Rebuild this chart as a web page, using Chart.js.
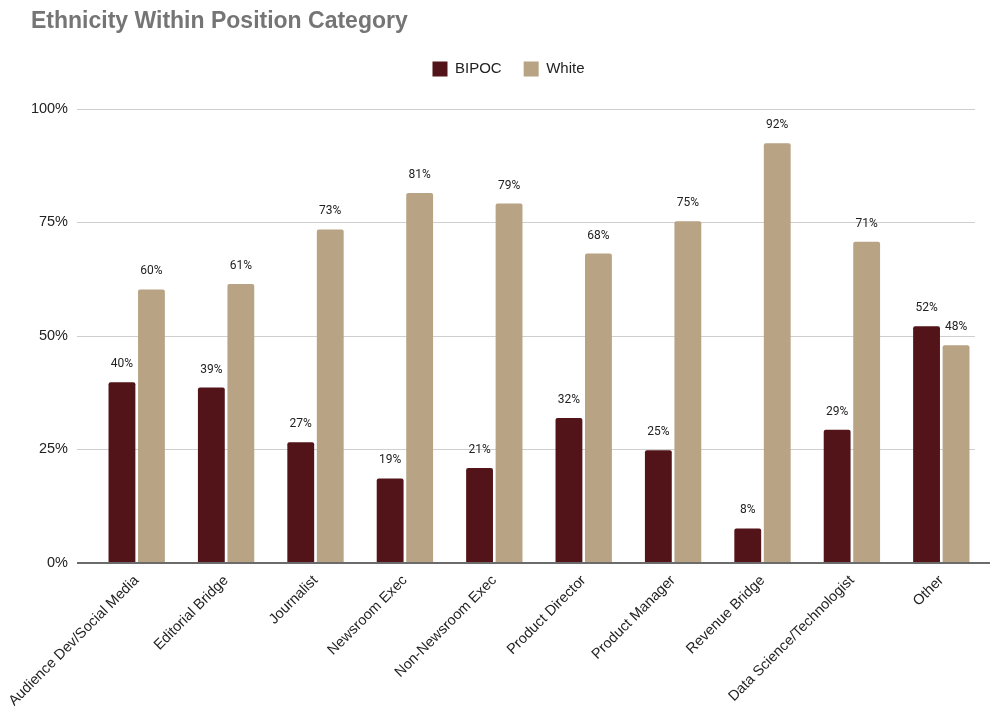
<!DOCTYPE html>
<html>
<head>
<meta charset="utf-8">
<script src="https://cdn.jsdelivr.net/npm/chart.js@4/dist/chart.umd.min.js"></script>
<style>
  html, body { margin: 0; padding: 0; background: #fff; }
  #wrap { width: 990px; height: 709px; position: relative; }
</style>
</head>
<body>
<div id="wrap"><canvas id="chart"></canvas></div>
<script>
// Position categories and the share of each ethnicity group within them (%)
const categories = [
  'Audience Dev/Social Media', 'Editorial Bridge', 'Journalist', 'Newsroom Exec',
  'Non-Newsroom Exec', 'Product Director', 'Product Manager', 'Revenue Bridge',
  'Data Science/Technologist', 'Other'
];
const bipoc = [39.8, 38.6, 26.6, 18.6, 20.9, 31.9, 24.8, 7.6, 29.3, 52.1];
const white = [60.2, 61.4, 73.4, 81.4, 79.1, 68.1, 75.2, 92.4, 70.7, 47.9];
const yTicks = [0, 25, 50, 75, 100];

const FONT = '"Liberation Sans", Arial, sans-serif';

// Horizontal gridlines reach a little past the bar area on the left;
// the baseline is drawn on top of the bars.
const gridLines = {
  id: 'gridLines',
  beforeDatasetsDraw(chart) {
    const { ctx, chartArea, scales: { y } } = chart;
    ctx.save();
    ctx.strokeStyle = '#cfcfcf';
    ctx.lineWidth = 1;
    yTicks.filter(v => v !== 0).forEach(v => {
      const py = Math.round(y.getPixelForValue(v)) + 0.5;
      ctx.beginPath();
      ctx.moveTo(chartArea.left - 15, py);
      ctx.lineTo(chartArea.right - 11, py);
      ctx.stroke();
    });
    ctx.restore();
  },
  afterDatasetsDraw(chart) {
    const { ctx, chartArea, scales: { y } } = chart;
    const py = y.getPixelForValue(0);
    ctx.save();
    ctx.strokeStyle = '#6b6b6b';
    ctx.lineWidth = 2;
    ctx.beginPath();
    ctx.moveTo(chartArea.left - 15, py);
    ctx.lineTo(chart.width, py);
    ctx.stroke();
    ctx.restore();
  }
};

// Writes the rounded percentage above every bar
const valueLabels = {
  id: 'valueLabels',
  afterDatasetsDraw(chart) {
    const ctx = chart.ctx;
    ctx.save();
    ctx.font = '12px Roboto, "Liberation Sans", Arial, sans-serif';
    ctx.fillStyle = '#222';
    ctx.textAlign = 'center';
    ctx.textBaseline = 'alphabetic';
    chart.data.datasets.forEach((ds, i) => {
      chart.getDatasetMeta(i).data.forEach((bar, j) => {
        ctx.fillText(Math.round(ds.data[j]) + '%', bar.x, bar.y - 15);
      });
    });
    ctx.restore();
  }
};

// Extra room between the legend and the plot
const legendSpacing = {
  id: 'legendSpacing',
  beforeInit(chart) {
    const legend = chart.legend;
    const fit = legend.fit;
    legend.fit = function () {
      fit.call(this);
      this.height += 22;
    };
  }
};

new Chart(document.getElementById('chart'), {
  type: 'bar',
  data: {
    labels: categories,
    datasets: [
      { label: 'BIPOC', data: bipoc, backgroundColor: '#521418' },
      { label: 'White', data: white, backgroundColor: '#b8a384' }
    ]
  },
  options: {
    responsive: true,
    maintainAspectRatio: false,
    animation: false,
    layout: { padding: { left: 31, right: 4, top: 0, bottom: 0 } },
    datasets: {
      bar: {
        categoryPercentage: 0.66,
        barPercentage: 0.91,
        borderRadius: { topLeft: 2, topRight: 2 },
        borderSkipped: 'start'
      }
    },
    plugins: {
      title: {
        display: true,
        text: 'Ethnicity Within Position Category',
        align: 'start',
        color: '#757575',
        font: { family: FONT, size: 23, weight: 'bold' },
        padding: { top: 8, bottom: 4 }
      },
      legend: {
        display: true,
        labels: {
          boxWidth: 15,
          boxHeight: 15,
          padding: 22,
          color: '#222',
          font: { family: FONT, size: 15 }
        }
      },
      tooltip: { enabled: false }
    },
    scales: {
      x: {
        grid: { display: false },
        border: { display: false },
        afterFit(scale) { scale.height = 146; },
        ticks: {
          color: '#222',
          minRotation: 45,
          maxRotation: 45,
          padding: 1,
          font: { family: FONT, size: 14.5 }
        }
      },
      y: {
        min: 0,
        max: 100,
        afterBuildTicks(scale) { scale.ticks = yTicks.map(v => ({ value: v })); },
        afterFit(scale) { scale.width = 61; },
        border: { display: false },
        grid: { display: false, drawTicks: false },
        ticks: {
          color: '#222',
          padding: 24,
          font: { family: FONT, size: 14.5 },
          callback: v => v + '%'
        }
      }
    }
  },
  plugins: [gridLines, valueLabels, legendSpacing]
});
</script>
</body>
</html>
